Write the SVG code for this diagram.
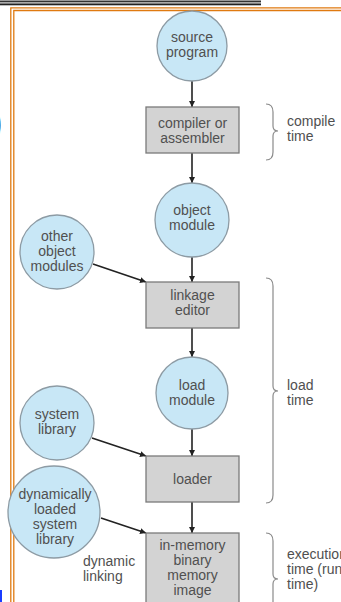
<svg xmlns="http://www.w3.org/2000/svg" width="341" height="602" viewBox="0 0 341 602">
<style>
.c{fill:#c8e7f6;stroke:#8d9ba4;stroke-width:1.3}
.b{fill:#d3d3d3;stroke:#7a7a7a;stroke-width:1.3}
text{font-family:"Liberation Sans",Arial,sans-serif;font-size:14px;fill:#505050}
.m{text-anchor:middle}
.e{stroke:#222;stroke-width:1.6;fill:none}
.br{stroke:#8a8a8a;stroke-width:1.2;fill:none}
.o{stroke:#e07a10;stroke-width:1.3;fill:none}
</style>
<defs>
<marker id="ah" viewBox="0 0 10 10" refX="10" refY="5" markerWidth="6" markerHeight="6" markerUnits="userSpaceOnUse" orient="auto">
<path d="M0,0 L10,5 L0,10 z" fill="#222"/>
</marker>
</defs>
<rect width="341" height="602" fill="#fff"/>
<g id="frame">
<rect x="0" y="0" width="261" height="1" fill="#999"/>
<rect x="0" y="1" width="261" height="1.5" fill="#333"/>
<rect x="0" y="2.5" width="261" height="1" fill="#bbb"/>
<rect x="0" y="3.5" width="261" height="1.5" fill="#222"/>
<rect x="0" y="5" width="261" height="0.8" fill="#aaa"/>
<path class="o" d="M10.8,610 V7.8 H350"/>
<path class="o" d="M13.8,610 V10.5 H350"/>
<text x="-11" y="136" style="font-size:40px;fill:#000;font-weight:bold">)</text>
<rect x="0" y="590" width="2" height="12" fill="#1a3cff"/>
</g>
<g id="connectors">
<line class="e" x1="192" y1="81" x2="192" y2="107" marker-end="url(#ah)"/>
<line class="e" x1="192" y1="153" x2="192" y2="183" marker-end="url(#ah)"/>
<line class="e" x1="192" y1="257" x2="192" y2="282" marker-end="url(#ah)"/>
<line class="e" x1="93" y1="264" x2="146" y2="282" marker-end="url(#ah)"/>
<line class="e" x1="192" y1="328" x2="192" y2="357" marker-end="url(#ah)"/>
<line class="e" x1="192" y1="429" x2="192" y2="456" marker-end="url(#ah)"/>
<line class="e" x1="92" y1="438" x2="146" y2="456" marker-end="url(#ah)"/>
<line class="e" x1="192" y1="502" x2="192" y2="533" marker-end="url(#ah)"/>
<line class="e" x1="101" y1="518" x2="146" y2="533" marker-end="url(#ah)"/>
</g>
<g id="source">
<circle class="c" cx="192" cy="46" r="35"/>
<text class="m" x="192" y="42">source</text>
<text class="m" x="192" y="57">program</text>
</g>
<g id="compiler">
<rect class="b" x="146" y="107" width="93" height="46"/>
<text class="m" x="192.5" y="128">compiler or</text>
<text class="m" x="192.5" y="143">assembler</text>
</g>
<g id="object">
<circle class="c" cx="192" cy="220" r="37"/>
<text class="m" x="192" y="215">object</text>
<text class="m" x="192" y="230">module</text>
</g>
<g id="other">
<circle class="c" cx="57" cy="252" r="37"/>
<text class="m" x="57" y="241">other</text>
<text class="m" x="57" y="256">object</text>
<text class="m" x="57" y="271">modules</text>
</g>
<g id="linkage">
<rect class="b" x="146" y="282" width="93" height="46"/>
<text class="m" x="192.5" y="300">linkage</text>
<text class="m" x="192.5" y="315">editor</text>
</g>
<g id="load">
<circle class="c" cx="192" cy="393" r="36"/>
<text class="m" x="192" y="390">load</text>
<text class="m" x="192" y="405">module</text>
</g>
<g id="syslib">
<circle class="c" cx="57" cy="423" r="37"/>
<text class="m" x="57" y="419">system</text>
<text class="m" x="57" y="434">library</text>
</g>
<g id="loader">
<rect class="b" x="146" y="456" width="93" height="46"/>
<text class="m" x="192.5" y="484">loader</text>
</g>
<g id="dynlib">
<circle class="c" cx="54" cy="512" r="46"/>
<text class="m" x="55" y="499">dynamically</text>
<text class="m" x="55" y="514">loaded</text>
<text class="m" x="55" y="529">system</text>
<text class="m" x="55" y="544">library</text>
</g>
<g id="dynlink">
<text x="83" y="566">dynamic</text>
<text x="83" y="581">linking</text>
</g>
<g id="inmem">
<rect class="b" x="146" y="533" width="93" height="80"/>
<text class="m" x="192.5" y="550">in-memory</text>
<text class="m" x="192.5" y="565">binary</text>
<text class="m" x="192.5" y="580">memory</text>
<text class="m" x="192.5" y="595">image</text>
</g>
<g id="compile-time">
<path class="br" d="M266,104 Q273,104 273,112 V126 Q273,131 278,131 Q273,131 273,136 V152 Q273,160 266,160"/>
<text x="287" y="126">compile</text>
<text x="287" y="141">time</text>
</g>
<g id="load-time">
<path class="br" d="M266,278 Q273,278 273,286 V386 Q273,391 278,391 Q273,391 273,396 V495 Q273,503 266,503"/>
<text x="287" y="390">load</text>
<text x="287" y="405">time</text>
</g>
<g id="exec-time">
<path class="br" d="M266,533 Q273,533 273,541 V574 Q273,579 278,579 Q273,579 273,584 V610"/>
<text x="287" y="559">execution</text>
<text x="287" y="574">time (run</text>
<text x="287" y="589">time)</text>
</g>
</svg>
